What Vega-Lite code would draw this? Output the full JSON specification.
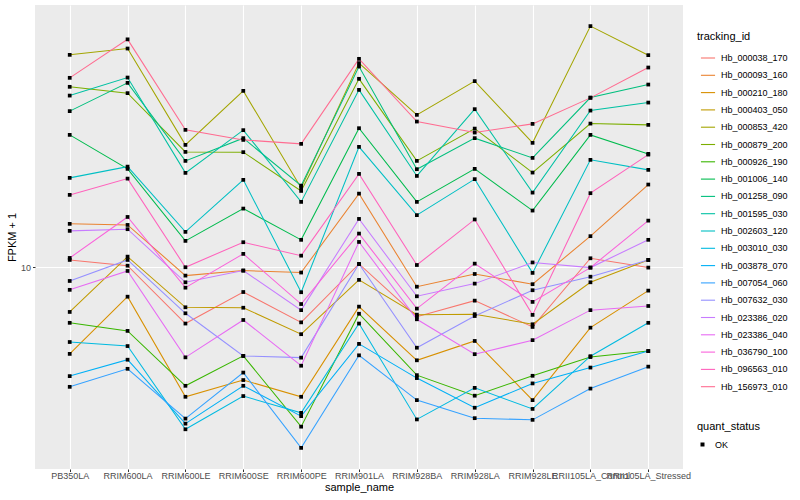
{
 "$schema": "https://vega.github.io/schema/vega-lite/v6.json",
 "width": 648, "height": 464,
 "autosize": {"type": "none"},
 "padding": {"left": 35, "top": 5, "right": 117, "bottom": 31},
 "background": "white",
 "config": {
  "font": "Liberation Sans",
  "view": {"fill": "#EBEBEB", "stroke": null},
  "axis": {"gridColor": "white", "gridWidth": 1.1, "domain": false, "tickColor": "#333333", "tickSize": 2.5, "labelColor": "#4D4D4D", "labelFontSize": 9, "titleFontSize": 11, "titleFontWeight": "normal", "titleColor": "black"}
 },
 "datasets": {
  "expr": [
{"tracking_id":"Hb_000038_170","sample_name":"PB350LA","fpkm":10.44,"quant_status":"OK"},
{"tracking_id":"Hb_000038_170","sample_name":"RRIM600LA","fpkm":10.10,"quant_status":"OK"},
{"tracking_id":"Hb_000038_170","sample_name":"RRIM600LE","fpkm":7.24,"quant_status":"OK"},
{"tracking_id":"Hb_000038_170","sample_name":"RRIM600SE","fpkm":8.68,"quant_status":"OK"},
{"tracking_id":"Hb_000038_170","sample_name":"RRIM600PE","fpkm":7.29,"quant_status":"OK"},
{"tracking_id":"Hb_000038_170","sample_name":"RRIM901LA","fpkm":10.20,"quant_status":"OK"},
{"tracking_id":"Hb_000038_170","sample_name":"RRIM928BA","fpkm":7.53,"quant_status":"OK"},
{"tracking_id":"Hb_000038_170","sample_name":"RRIM928LA","fpkm":8.26,"quant_status":"OK"},
{"tracking_id":"Hb_000038_170","sample_name":"RRIM928LE","fpkm":7.10,"quant_status":"OK"},
{"tracking_id":"Hb_000038_170","sample_name":"RRII105LA_Control","fpkm":10.54,"quant_status":"OK"},
{"tracking_id":"Hb_000038_170","sample_name":"RRII105LA_Stressed","fpkm":9.99,"quant_status":"OK"},
{"tracking_id":"Hb_000093_160","sample_name":"PB350LA","fpkm":12.85,"quant_status":"OK"},
{"tracking_id":"Hb_000093_160","sample_name":"RRIM600LA","fpkm":12.77,"quant_status":"OK"},
{"tracking_id":"Hb_000093_160","sample_name":"RRIM600LE","fpkm":9.54,"quant_status":"OK"},
{"tracking_id":"Hb_000093_160","sample_name":"RRIM600SE","fpkm":9.82,"quant_status":"OK"},
{"tracking_id":"Hb_000093_160","sample_name":"RRIM600PE","fpkm":9.71,"quant_status":"OK"},
{"tracking_id":"Hb_000093_160","sample_name":"RRIM901LA","fpkm":15.29,"quant_status":"OK"},
{"tracking_id":"Hb_000093_160","sample_name":"RRIM928BA","fpkm":8.95,"quant_status":"OK"},
{"tracking_id":"Hb_000093_160","sample_name":"RRIM928LA","fpkm":9.63,"quant_status":"OK"},
{"tracking_id":"Hb_000093_160","sample_name":"RRIM928LE","fpkm":9.08,"quant_status":"OK"},
{"tracking_id":"Hb_000093_160","sample_name":"RRII105LA_Control","fpkm":11.97,"quant_status":"OK"},
{"tracking_id":"Hb_000093_160","sample_name":"RRII105LA_Stressed","fpkm":16.11,"quant_status":"OK"},
{"tracking_id":"Hb_000210_180","sample_name":"PB350LA","fpkm":6.08,"quant_status":"OK"},
{"tracking_id":"Hb_000210_180","sample_name":"RRIM600LA","fpkm":8.45,"quant_status":"OK"},
{"tracking_id":"Hb_000210_180","sample_name":"RRIM600LE","fpkm":4.75,"quant_status":"OK"},
{"tracking_id":"Hb_000210_180","sample_name":"RRIM600SE","fpkm":5.23,"quant_status":"OK"},
{"tracking_id":"Hb_000210_180","sample_name":"RRIM600PE","fpkm":4.75,"quant_status":"OK"},
{"tracking_id":"Hb_000210_180","sample_name":"RRIM901LA","fpkm":7.98,"quant_status":"OK"},
{"tracking_id":"Hb_000210_180","sample_name":"RRIM928BA","fpkm":5.86,"quant_status":"OK"},
{"tracking_id":"Hb_000210_180","sample_name":"RRIM928LA","fpkm":6.55,"quant_status":"OK"},
{"tracking_id":"Hb_000210_180","sample_name":"RRIM928LE","fpkm":4.66,"quant_status":"OK"},
{"tracking_id":"Hb_000210_180","sample_name":"RRII105LA_Control","fpkm":7.07,"quant_status":"OK"},
{"tracking_id":"Hb_000210_180","sample_name":"RRII105LA_Stressed","fpkm":8.75,"quant_status":"OK"},
{"tracking_id":"Hb_000403_050","sample_name":"PB350LA","fpkm":7.74,"quant_status":"OK"},
{"tracking_id":"Hb_000403_050","sample_name":"RRIM600LA","fpkm":10.64,"quant_status":"OK"},
{"tracking_id":"Hb_000403_050","sample_name":"RRIM600LE","fpkm":7.95,"quant_status":"OK"},
{"tracking_id":"Hb_000403_050","sample_name":"RRIM600SE","fpkm":7.93,"quant_status":"OK"},
{"tracking_id":"Hb_000403_050","sample_name":"RRIM600PE","fpkm":6.81,"quant_status":"OK"},
{"tracking_id":"Hb_000403_050","sample_name":"RRIM901LA","fpkm":9.31,"quant_status":"OK"},
{"tracking_id":"Hb_000403_050","sample_name":"RRIM928BA","fpkm":7.62,"quant_status":"OK"},
{"tracking_id":"Hb_000403_050","sample_name":"RRIM928LA","fpkm":7.64,"quant_status":"OK"},
{"tracking_id":"Hb_000403_050","sample_name":"RRIM928LE","fpkm":7.21,"quant_status":"OK"},
{"tracking_id":"Hb_000403_050","sample_name":"RRII105LA_Control","fpkm":9.18,"quant_status":"OK"},
{"tracking_id":"Hb_000403_050","sample_name":"RRII105LA_Stressed","fpkm":10.44,"quant_status":"OK"},
{"tracking_id":"Hb_000853_420","sample_name":"PB350LA","fpkm":33.98,"quant_status":"OK"},
{"tracking_id":"Hb_000853_420","sample_name":"RRIM600LA","fpkm":35.24,"quant_status":"OK"},
{"tracking_id":"Hb_000853_420","sample_name":"RRIM600LE","fpkm":20.24,"quant_status":"OK"},
{"tracking_id":"Hb_000853_420","sample_name":"RRIM600SE","fpkm":27.62,"quant_status":"OK"},
{"tracking_id":"Hb_000853_420","sample_name":"RRIM600PE","fpkm":15.80,"quant_status":"OK"},
{"tracking_id":"Hb_000853_420","sample_name":"RRIM901LA","fpkm":32.40,"quant_status":"OK"},
{"tracking_id":"Hb_000853_420","sample_name":"RRIM928BA","fpkm":24.06,"quant_status":"OK"},
{"tracking_id":"Hb_000853_420","sample_name":"RRIM928LA","fpkm":29.21,"quant_status":"OK"},
{"tracking_id":"Hb_000853_420","sample_name":"RRIM928LE","fpkm":20.48,"quant_status":"OK"},
{"tracking_id":"Hb_000853_420","sample_name":"RRII105LA_Control","fpkm":40.09,"quant_status":"OK"},
{"tracking_id":"Hb_000853_420","sample_name":"RRII105LA_Stressed","fpkm":33.92,"quant_status":"OK"},
{"tracking_id":"Hb_000879_200","sample_name":"PB350LA","fpkm":28.27,"quant_status":"OK"},
{"tracking_id":"Hb_000879_200","sample_name":"RRIM600LA","fpkm":27.26,"quant_status":"OK"},
{"tracking_id":"Hb_000879_200","sample_name":"RRIM600LE","fpkm":19.44,"quant_status":"OK"},
{"tracking_id":"Hb_000879_200","sample_name":"RRIM600SE","fpkm":19.41,"quant_status":"OK"},
{"tracking_id":"Hb_000879_200","sample_name":"RRIM600PE","fpkm":15.53,"quant_status":"OK"},
{"tracking_id":"Hb_000879_200","sample_name":"RRIM901LA","fpkm":29.60,"quant_status":"OK"},
{"tracking_id":"Hb_000879_200","sample_name":"RRIM928BA","fpkm":18.46,"quant_status":"OK"},
{"tracking_id":"Hb_000879_200","sample_name":"RRIM928LA","fpkm":22.23,"quant_status":"OK"},
{"tracking_id":"Hb_000879_200","sample_name":"RRIM928LE","fpkm":17.26,"quant_status":"OK"},
{"tracking_id":"Hb_000879_200","sample_name":"RRII105LA_Control","fpkm":22.88,"quant_status":"OK"},
{"tracking_id":"Hb_000879_200","sample_name":"RRII105LA_Stressed","fpkm":22.71,"quant_status":"OK"},
{"tracking_id":"Hb_000926_190","sample_name":"PB350LA","fpkm":7.27,"quant_status":"OK"},
{"tracking_id":"Hb_000926_190","sample_name":"RRIM600LA","fpkm":6.94,"quant_status":"OK"},
{"tracking_id":"Hb_000926_190","sample_name":"RRIM600LE","fpkm":5.06,"quant_status":"OK"},
{"tracking_id":"Hb_000926_190","sample_name":"RRIM600SE","fpkm":6.01,"quant_status":"OK"},
{"tracking_id":"Hb_000926_190","sample_name":"RRIM600PE","fpkm":4.00,"quant_status":"OK"},
{"tracking_id":"Hb_000926_190","sample_name":"RRIM901LA","fpkm":7.66,"quant_status":"OK"},
{"tracking_id":"Hb_000926_190","sample_name":"RRIM928BA","fpkm":5.38,"quant_status":"OK"},
{"tracking_id":"Hb_000926_190","sample_name":"RRIM928LA","fpkm":4.78,"quant_status":"OK"},
{"tracking_id":"Hb_000926_190","sample_name":"RRIM928LE","fpkm":5.36,"quant_status":"OK"},
{"tracking_id":"Hb_000926_190","sample_name":"RRII105LA_Control","fpkm":5.97,"quant_status":"OK"},
{"tracking_id":"Hb_000926_190","sample_name":"RRII105LA_Stressed","fpkm":6.18,"quant_status":"OK"},
{"tracking_id":"Hb_001006_140","sample_name":"PB350LA","fpkm":21.44,"quant_status":"OK"},
{"tracking_id":"Hb_001006_140","sample_name":"RRIM600LA","fpkm":17.63,"quant_status":"OK"},
{"tracking_id":"Hb_001006_140","sample_name":"RRIM600LE","fpkm":11.65,"quant_status":"OK"},
{"tracking_id":"Hb_001006_140","sample_name":"RRIM600SE","fpkm":14.03,"quant_status":"OK"},
{"tracking_id":"Hb_001006_140","sample_name":"RRIM600PE","fpkm":11.72,"quant_status":"OK"},
{"tracking_id":"Hb_001006_140","sample_name":"RRIM901LA","fpkm":22.28,"quant_status":"OK"},
{"tracking_id":"Hb_001006_140","sample_name":"RRIM928BA","fpkm":14.58,"quant_status":"OK"},
{"tracking_id":"Hb_001006_140","sample_name":"RRIM928LA","fpkm":17.63,"quant_status":"OK"},
{"tracking_id":"Hb_001006_140","sample_name":"RRIM928LE","fpkm":13.87,"quant_status":"OK"},
{"tracking_id":"Hb_001006_140","sample_name":"RRII105LA_Control","fpkm":21.44,"quant_status":"OK"},
{"tracking_id":"Hb_001006_140","sample_name":"RRII105LA_Stressed","fpkm":19.22,"quant_status":"OK"},
{"tracking_id":"Hb_001258_090","sample_name":"PB350LA","fpkm":24.58,"quant_status":"OK"},
{"tracking_id":"Hb_001258_090","sample_name":"RRIM600LA","fpkm":28.92,"quant_status":"OK"},
{"tracking_id":"Hb_001258_090","sample_name":"RRIM600LE","fpkm":18.46,"quant_status":"OK"},
{"tracking_id":"Hb_001258_090","sample_name":"RRIM600SE","fpkm":21.04,"quant_status":"OK"},
{"tracking_id":"Hb_001258_090","sample_name":"RRIM600PE","fpkm":16.01,"quant_status":"OK"},
{"tracking_id":"Hb_001258_090","sample_name":"RRIM901LA","fpkm":31.77,"quant_status":"OK"},
{"tracking_id":"Hb_001258_090","sample_name":"RRIM928BA","fpkm":17.60,"quant_status":"OK"},
{"tracking_id":"Hb_001258_090","sample_name":"RRIM928LA","fpkm":21.04,"quant_status":"OK"},
{"tracking_id":"Hb_001258_090","sample_name":"RRIM928LE","fpkm":18.78,"quant_status":"OK"},
{"tracking_id":"Hb_001258_090","sample_name":"RRII105LA_Control","fpkm":26.58,"quant_status":"OK"},
{"tracking_id":"Hb_001258_090","sample_name":"RRII105LA_Stressed","fpkm":28.64,"quant_status":"OK"},
{"tracking_id":"Hb_001595_030","sample_name":"PB350LA","fpkm":26.88,"quant_status":"OK"},
{"tracking_id":"Hb_001595_030","sample_name":"RRIM600LA","fpkm":29.82,"quant_status":"OK"},
{"tracking_id":"Hb_001595_030","sample_name":"RRIM600LE","fpkm":17.23,"quant_status":"OK"},
{"tracking_id":"Hb_001595_030","sample_name":"RRIM600SE","fpkm":22.03,"quant_status":"OK"},
{"tracking_id":"Hb_001595_030","sample_name":"RRIM600PE","fpkm":14.58,"quant_status":"OK"},
{"tracking_id":"Hb_001595_030","sample_name":"RRIM901LA","fpkm":27.78,"quant_status":"OK"},
{"tracking_id":"Hb_001595_030","sample_name":"RRIM928BA","fpkm":16.93,"quant_status":"OK"},
{"tracking_id":"Hb_001595_030","sample_name":"RRIM928LA","fpkm":24.86,"quant_status":"OK"},
{"tracking_id":"Hb_001595_030","sample_name":"RRIM928LE","fpkm":15.38,"quant_status":"OK"},
{"tracking_id":"Hb_001595_030","sample_name":"RRII105LA_Control","fpkm":24.66,"quant_status":"OK"},
{"tracking_id":"Hb_001595_030","sample_name":"RRII105LA_Stressed","fpkm":25.82,"quant_status":"OK"},
{"tracking_id":"Hb_002603_120","sample_name":"PB350LA","fpkm":16.74,"quant_status":"OK"},
{"tracking_id":"Hb_002603_120","sample_name":"RRIM600LA","fpkm":17.86,"quant_status":"OK"},
{"tracking_id":"Hb_002603_120","sample_name":"RRIM600LE","fpkm":12.27,"quant_status":"OK"},
{"tracking_id":"Hb_002603_120","sample_name":"RRIM600SE","fpkm":16.55,"quant_status":"OK"},
{"tracking_id":"Hb_002603_120","sample_name":"RRIM600PE","fpkm":8.67,"quant_status":"OK"},
{"tracking_id":"Hb_002603_120","sample_name":"RRIM901LA","fpkm":20.01,"quant_status":"OK"},
{"tracking_id":"Hb_002603_120","sample_name":"RRIM928BA","fpkm":13.51,"quant_status":"OK"},
{"tracking_id":"Hb_002603_120","sample_name":"RRIM928LA","fpkm":16.62,"quant_status":"OK"},
{"tracking_id":"Hb_002603_120","sample_name":"RRIM928LE","fpkm":9.69,"quant_status":"OK"},
{"tracking_id":"Hb_002603_120","sample_name":"RRII105LA_Control","fpkm":18.57,"quant_status":"OK"},
{"tracking_id":"Hb_002603_120","sample_name":"RRII105LA_Stressed","fpkm":17.53,"quant_status":"OK"},
{"tracking_id":"Hb_003010_030","sample_name":"PB350LA","fpkm":6.51,"quant_status":"OK"},
{"tracking_id":"Hb_003010_030","sample_name":"RRIM600LA","fpkm":6.36,"quant_status":"OK"},
{"tracking_id":"Hb_003010_030","sample_name":"RRIM600LE","fpkm":3.94,"quant_status":"OK"},
{"tracking_id":"Hb_003010_030","sample_name":"RRIM600SE","fpkm":4.77,"quant_status":"OK"},
{"tracking_id":"Hb_003010_030","sample_name":"RRIM600PE","fpkm":4.33,"quant_status":"OK"},
{"tracking_id":"Hb_003010_030","sample_name":"RRIM901LA","fpkm":7.24,"quant_status":"OK"},
{"tracking_id":"Hb_003010_030","sample_name":"RRIM928BA","fpkm":4.17,"quant_status":"OK"},
{"tracking_id":"Hb_003010_030","sample_name":"RRIM928LA","fpkm":5.00,"quant_status":"OK"},
{"tracking_id":"Hb_003010_030","sample_name":"RRIM928LE","fpkm":4.43,"quant_status":"OK"},
{"tracking_id":"Hb_003010_030","sample_name":"RRII105LA_Control","fpkm":6.00,"quant_status":"OK"},
{"tracking_id":"Hb_003010_030","sample_name":"RRII105LA_Stressed","fpkm":7.27,"quant_status":"OK"},
{"tracking_id":"Hb_003878_070","sample_name":"PB350LA","fpkm":5.35,"quant_status":"OK"},
{"tracking_id":"Hb_003878_070","sample_name":"RRIM600LA","fpkm":5.88,"quant_status":"OK"},
{"tracking_id":"Hb_003878_070","sample_name":"RRIM600LE","fpkm":4.07,"quant_status":"OK"},
{"tracking_id":"Hb_003878_070","sample_name":"RRIM600SE","fpkm":5.06,"quant_status":"OK"},
{"tracking_id":"Hb_003878_070","sample_name":"RRIM600PE","fpkm":4.25,"quant_status":"OK"},
{"tracking_id":"Hb_003878_070","sample_name":"RRIM901LA","fpkm":6.44,"quant_status":"OK"},
{"tracking_id":"Hb_003878_070","sample_name":"RRIM928BA","fpkm":5.29,"quant_status":"OK"},
{"tracking_id":"Hb_003878_070","sample_name":"RRIM928LA","fpkm":4.46,"quant_status":"OK"},
{"tracking_id":"Hb_003878_070","sample_name":"RRIM928LE","fpkm":5.13,"quant_status":"OK"},
{"tracking_id":"Hb_003878_070","sample_name":"RRII105LA_Control","fpkm":5.62,"quant_status":"OK"},
{"tracking_id":"Hb_003878_070","sample_name":"RRII105LA_Stressed","fpkm":6.18,"quant_status":"OK"},
{"tracking_id":"Hb_007054_060","sample_name":"PB350LA","fpkm":5.03,"quant_status":"OK"},
{"tracking_id":"Hb_007054_060","sample_name":"RRIM600LA","fpkm":5.58,"quant_status":"OK"},
{"tracking_id":"Hb_007054_060","sample_name":"RRIM600LE","fpkm":4.19,"quant_status":"OK"},
{"tracking_id":"Hb_007054_060","sample_name":"RRIM600SE","fpkm":5.46,"quant_status":"OK"},
{"tracking_id":"Hb_007054_060","sample_name":"RRIM600PE","fpkm":3.54,"quant_status":"OK"},
{"tracking_id":"Hb_007054_060","sample_name":"RRIM901LA","fpkm":6.03,"quant_status":"OK"},
{"tracking_id":"Hb_007054_060","sample_name":"RRIM928BA","fpkm":4.66,"quant_status":"OK"},
{"tracking_id":"Hb_007054_060","sample_name":"RRIM928LA","fpkm":4.20,"quant_status":"OK"},
{"tracking_id":"Hb_007054_060","sample_name":"RRIM928LE","fpkm":4.16,"quant_status":"OK"},
{"tracking_id":"Hb_007054_060","sample_name":"RRII105LA_Control","fpkm":4.98,"quant_status":"OK"},
{"tracking_id":"Hb_007054_060","sample_name":"RRII105LA_Stressed","fpkm":5.65,"quant_status":"OK"},
{"tracking_id":"Hb_007632_030","sample_name":"PB350LA","fpkm":9.25,"quant_status":"OK"},
{"tracking_id":"Hb_007632_030","sample_name":"RRIM600LA","fpkm":10.44,"quant_status":"OK"},
{"tracking_id":"Hb_007632_030","sample_name":"RRIM600LE","fpkm":7.68,"quant_status":"OK"},
{"tracking_id":"Hb_007632_030","sample_name":"RRIM600SE","fpkm":6.01,"quant_status":"OK"},
{"tracking_id":"Hb_007632_030","sample_name":"RRIM600PE","fpkm":5.95,"quant_status":"OK"},
{"tracking_id":"Hb_007632_030","sample_name":"RRIM901LA","fpkm":10.20,"quant_status":"OK"},
{"tracking_id":"Hb_007632_030","sample_name":"RRIM928BA","fpkm":6.30,"quant_status":"OK"},
{"tracking_id":"Hb_007632_030","sample_name":"RRIM928LA","fpkm":7.56,"quant_status":"OK"},
{"tracking_id":"Hb_007632_030","sample_name":"RRIM928LE","fpkm":8.77,"quant_status":"OK"},
{"tracking_id":"Hb_007632_030","sample_name":"RRII105LA_Control","fpkm":9.48,"quant_status":"OK"},
{"tracking_id":"Hb_007632_030","sample_name":"RRII105LA_Stressed","fpkm":10.44,"quant_status":"OK"},
{"tracking_id":"Hb_023386_020","sample_name":"PB350LA","fpkm":12.34,"quant_status":"OK"},
{"tracking_id":"Hb_023386_020","sample_name":"RRIM600LA","fpkm":12.46,"quant_status":"OK"},
{"tracking_id":"Hb_023386_020","sample_name":"RRIM600LE","fpkm":9.18,"quant_status":"OK"},
{"tracking_id":"Hb_023386_020","sample_name":"RRIM600SE","fpkm":9.82,"quant_status":"OK"},
{"tracking_id":"Hb_023386_020","sample_name":"RRIM600PE","fpkm":7.82,"quant_status":"OK"},
{"tracking_id":"Hb_023386_020","sample_name":"RRIM901LA","fpkm":13.22,"quant_status":"OK"},
{"tracking_id":"Hb_023386_020","sample_name":"RRIM928BA","fpkm":8.47,"quant_status":"OK"},
{"tracking_id":"Hb_023386_020","sample_name":"RRIM928LA","fpkm":9.11,"quant_status":"OK"},
{"tracking_id":"Hb_023386_020","sample_name":"RRIM928LE","fpkm":10.29,"quant_status":"OK"},
{"tracking_id":"Hb_023386_020","sample_name":"RRII105LA_Control","fpkm":9.99,"quant_status":"OK"},
{"tracking_id":"Hb_023386_020","sample_name":"RRII105LA_Stressed","fpkm":11.72,"quant_status":"OK"},
{"tracking_id":"Hb_023386_040","sample_name":"PB350LA","fpkm":8.79,"quant_status":"OK"},
{"tracking_id":"Hb_023386_040","sample_name":"RRIM600LA","fpkm":9.80,"quant_status":"OK"},
{"tracking_id":"Hb_023386_040","sample_name":"RRIM600LE","fpkm":5.96,"quant_status":"OK"},
{"tracking_id":"Hb_023386_040","sample_name":"RRIM600SE","fpkm":7.39,"quant_status":"OK"},
{"tracking_id":"Hb_023386_040","sample_name":"RRIM600PE","fpkm":5.68,"quant_status":"OK"},
{"tracking_id":"Hb_023386_040","sample_name":"RRIM901LA","fpkm":11.58,"quant_status":"OK"},
{"tracking_id":"Hb_023386_040","sample_name":"RRIM928BA","fpkm":7.42,"quant_status":"OK"},
{"tracking_id":"Hb_023386_040","sample_name":"RRIM928LA","fpkm":6.07,"quant_status":"OK"},
{"tracking_id":"Hb_023386_040","sample_name":"RRIM928LE","fpkm":6.58,"quant_status":"OK"},
{"tracking_id":"Hb_023386_040","sample_name":"RRII105LA_Control","fpkm":7.82,"quant_status":"OK"},
{"tracking_id":"Hb_023386_040","sample_name":"RRII105LA_Stressed","fpkm":8.01,"quant_status":"OK"},
{"tracking_id":"Hb_036790_100","sample_name":"PB350LA","fpkm":10.56,"quant_status":"OK"},
{"tracking_id":"Hb_036790_100","sample_name":"RRIM600LA","fpkm":13.37,"quant_status":"OK"},
{"tracking_id":"Hb_036790_100","sample_name":"RRIM600LE","fpkm":8.90,"quant_status":"OK"},
{"tracking_id":"Hb_036790_100","sample_name":"RRIM600SE","fpkm":10.81,"quant_status":"OK"},
{"tracking_id":"Hb_036790_100","sample_name":"RRIM600PE","fpkm":8.10,"quant_status":"OK"},
{"tracking_id":"Hb_036790_100","sample_name":"RRIM901LA","fpkm":12.15,"quant_status":"OK"},
{"tracking_id":"Hb_036790_100","sample_name":"RRIM928BA","fpkm":7.89,"quant_status":"OK"},
{"tracking_id":"Hb_036790_100","sample_name":"RRIM928LA","fpkm":10.22,"quant_status":"OK"},
{"tracking_id":"Hb_036790_100","sample_name":"RRIM928LE","fpkm":8.20,"quant_status":"OK"},
{"tracking_id":"Hb_036790_100","sample_name":"RRII105LA_Control","fpkm":9.99,"quant_status":"OK"},
{"tracking_id":"Hb_036790_100","sample_name":"RRII105LA_Stressed","fpkm":13.09,"quant_status":"OK"},
{"tracking_id":"Hb_096563_010","sample_name":"PB350LA","fpkm":15.18,"quant_status":"OK"},
{"tracking_id":"Hb_096563_010","sample_name":"RRIM600LA","fpkm":16.67,"quant_status":"OK"},
{"tracking_id":"Hb_096563_010","sample_name":"RRIM600LE","fpkm":10.01,"quant_status":"OK"},
{"tracking_id":"Hb_096563_010","sample_name":"RRIM600SE","fpkm":11.56,"quant_status":"OK"},
{"tracking_id":"Hb_096563_010","sample_name":"RRIM600PE","fpkm":10.70,"quant_status":"OK"},
{"tracking_id":"Hb_096563_010","sample_name":"RRIM901LA","fpkm":17.13,"quant_status":"OK"},
{"tracking_id":"Hb_096563_010","sample_name":"RRIM928BA","fpkm":10.14,"quant_status":"OK"},
{"tracking_id":"Hb_096563_010","sample_name":"RRIM928LA","fpkm":13.18,"quant_status":"OK"},
{"tracking_id":"Hb_096563_010","sample_name":"RRIM928LE","fpkm":7.61,"quant_status":"OK"},
{"tracking_id":"Hb_096563_010","sample_name":"RRII105LA_Control","fpkm":15.33,"quant_status":"OK"},
{"tracking_id":"Hb_096563_010","sample_name":"RRII105LA_Stressed","fpkm":19.14,"quant_status":"OK"},
{"tracking_id":"Hb_156973_010","sample_name":"PB350LA","fpkm":29.77,"quant_status":"OK"},
{"tracking_id":"Hb_156973_010","sample_name":"RRIM600LA","fpkm":37.15,"quant_status":"OK"},
{"tracking_id":"Hb_156973_010","sample_name":"RRIM600LE","fpkm":22.07,"quant_status":"OK"},
{"tracking_id":"Hb_156973_010","sample_name":"RRIM600SE","fpkm":20.83,"quant_status":"OK"},
{"tracking_id":"Hb_156973_010","sample_name":"RRIM600PE","fpkm":20.36,"quant_status":"OK"},
{"tracking_id":"Hb_156973_010","sample_name":"RRIM901LA","fpkm":33.21,"quant_status":"OK"},
{"tracking_id":"Hb_156973_010","sample_name":"RRIM928BA","fpkm":23.15,"quant_status":"OK"},
{"tracking_id":"Hb_156973_010","sample_name":"RRIM928LA","fpkm":21.73,"quant_status":"OK"},
{"tracking_id":"Hb_156973_010","sample_name":"RRIM928LE","fpkm":22.84,"quant_status":"OK"},
{"tracking_id":"Hb_156973_010","sample_name":"RRII105LA_Control","fpkm":26.53,"quant_status":"OK"},
{"tracking_id":"Hb_156973_010","sample_name":"RRII105LA_Stressed","fpkm":31.59,"quant_status":"OK"}
  ]
 },
 "data": {"name": "expr"},
 "encoding": {
  "x": {"field": "sample_name", "type": "nominal",
        "sort": ["PB350LA","RRIM600LA","RRIM600LE","RRIM600SE","RRIM600PE","RRIM901LA","RRIM928BA","RRIM928LA","RRIM928LE","RRII105LA_Control","RRII105LA_Stressed"],
        "scale": {"type": "point", "padding": 0.6},
        "axis": {"title": "sample_name", "labelAngle": 0, "labelOverlap": false, "labelLimit": 0, "labelPadding": 0, "titlePadding": 1, "grid": true}},
  "y": {"field": "fpkm", "type": "quantitative",
        "scale": {"type": "log", "domain": [3.135, 45.27], "nice": false, "zero": false},
        "axis": {"title": "FPKM + 1", "values": [10], "format": "d", "labelPadding": 2, "titlePadding": 3, "grid": true}}
 },
 "layer": [
  {"mark": {"type": "line", "strokeWidth": 1.05},
   "encoding": {
    "order": {"value": null},
    "color": {"field": "tracking_id", "type": "nominal",
      "scale": {"domain": ["Hb_000038_170","Hb_000093_160","Hb_000210_180","Hb_000403_050","Hb_000853_420","Hb_000879_200","Hb_000926_190","Hb_001006_140","Hb_001258_090","Hb_001595_030","Hb_002603_120","Hb_003010_030","Hb_003878_070","Hb_007054_060","Hb_007632_030","Hb_023386_020","Hb_023386_040","Hb_036790_100","Hb_096563_010","Hb_156973_010"],
                "range": ["#F8766D","#EA8331","#D89000","#C09B00","#A3A500","#7CAE00","#39B600","#00BB4E","#00BF7D","#00C1A3","#00BFC4","#00BAE0","#00B0F6","#35A2FF","#9590FF","#C77CFF","#E76BF3","#FA62DB","#FF62BC","#FF6C91"]},
      "legend": {"title": "tracking_id", "orient": "none", "legendX": 662, "legendY": 26, "symbolType": "stroke", "symbolSize": 200, "symbolStrokeWidth": 1.1, "labelFontSize": 9, "labelColor": "black", "titleFontSize": 11, "titleFontWeight": "normal", "titlePadding": 8, "rowPadding": 4.3, "labelOffset": 5, "symbolOffset": 3}
    }
   }},
  {"mark": {"type": "point", "filled": true, "size": 14, "color": "black", "opacity": 1},
   "encoding": {
    "shape": {"field": "quant_status", "type": "nominal", "scale": {"range": ["square"]},
      "legend": {"title": "quant_status", "orient": "none", "legendX": 662, "legendY": 416, "symbolFillColor": "black", "symbolStrokeColor": "black", "symbolSize": 16, "labelFontSize": 9, "labelColor": "black", "titleFontSize": 11, "titleFontWeight": "normal", "titlePadding": 8, "labelOffset": 8, "symbolOffset": 1}
    }
   }}
 ]
}
